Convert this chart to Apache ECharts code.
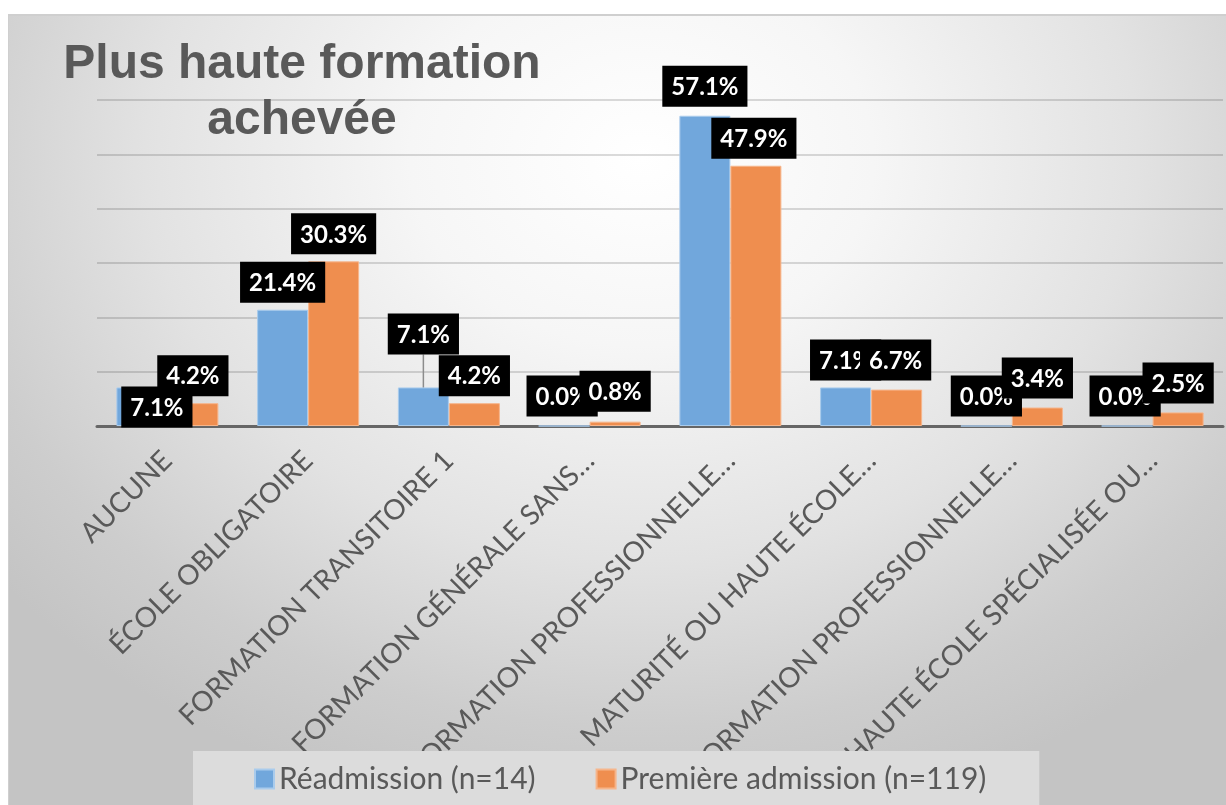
<!DOCTYPE html>
<html>
<head>
<meta charset="utf-8">
<script src="https://cdn.jsdelivr.net/npm/echarts@6/dist/echarts.min.js"></script>
<style>
  html, body { margin: 0; padding: 0; background: #ffffff; }
  #bg {
    position: absolute; left: 8px; top: 14px; width: 1218px; height: 791px;
    box-sizing: border-box;
    border-top: 2px solid #cfcfcf; border-left: 1px solid #cfcfcf;
    background: radial-gradient(ellipse 68% 85% at 52% 18%, #ffffff 0%, #f6f6f6 28%, #e2e2e2 60%, #cdcdcd 85%, #c4c4c4 100%);
  }
  #chart { position: absolute; left: 0; top: 0; width: 1226px; height: 805px; }
</style>
</head>
<body>
<div id="bg"></div>
<div id="chart"></div>
<script>
const titleText = 'Plus haute formation\nachevée';
const categories = [
  'AUCUNE',
  'ÉCOLE OBLIGATOIRE',
  'FORMATION TRANSITOIRE 1',
  'FORMATION GÉNÉRALE SANS…',
  'FORMATION PROFESSIONNELLE…',
  'MATURITÉ OU HAUTE ÉCOLE…',
  'FORMATION PROFESSIONNELLE…',
  'HAUTE ÉCOLE SPÉCIALISÉE OU…'
];
const seriesNames = ['Réadmission (n=14)', 'Première admission (n=119)'];
const readmission = [7.1, 21.4, 7.1, 0.0, 57.1, 7.1, 0.0, 0.0];
const premiere = [4.2, 30.3, 4.2, 0.8, 47.9, 6.7, 3.4, 2.5];
const yTicks = [0, 10, 20, 30, 40, 50, 60];

// label nudges (layout only), [dx, dy] per point
const labelShift = [
  [[15, 47], [0, 0], [0, -26], [-2, -2], [0, -2], [0, 0], [0, -2], [-2, -2]],
  [[0, 0], [0, 0], [0, 0], [0, -3], [-2, 0], [-1, -2], [0, -2], [0, -2]]
];

const colors = ['#71a7dc', '#ef8e4f'];
const borders = ['#a9cbec', '#f6b58b'];

const labelStyle = {
  show: true,
  position: 'top',
  distance: 7,
  formatter: p => p.value.toFixed(1) + '%',
  color: '#ffffff',
  backgroundColor: '#000000',
  fontFamily: 'Lato',
  fontWeight: 'bold',
  fontSize: 24,
  lineHeight: 25,
  padding: [9, 9, 7, 9]
};

function buildData(values, si) {
  return values.map((v, i) => {
    const item = { value: v };
    if (si === 0 && i === 2) {
      item.labelLine = { show: true, lineStyle: { color: '#8c8c8c', width: 1.5 } };
    }
    return item;
  });
}

const chart = echarts.init(document.getElementById('chart'), null, { renderer: 'canvas' });
chart.setOption({
  backgroundColor: 'transparent',
  animation: false,
  title: {
    text: titleText,
    left: 297,
    top: 32,
    textAlign: 'center',
    textStyle: {
      fontFamily: 'Liberation Sans',
      fontWeight: 'bold',
      fontSize: 48,
      lineHeight: 56,
      color: '#595959'
    }
  },
  legend: {
    data: seriesNames,
    left: 193,
    top: 751,
    backgroundColor: '#dcdcdc',
    padding: [10, 53, 20, 61],
    itemWidth: 19,
    itemHeight: 19,
    itemGap: 60,
    icon: 'rect',
    textStyle: { fontFamily: 'Lato', fontSize: 30, color: '#595959', lineHeight: 36 }
  },
  grid: { left: 97, right: 3, top: 100, bottom: 379, containLabel: false },
  xAxis: {
    type: 'category',
    data: categories,
    axisLine: { show: true, lineStyle: { color: '#666666', width: 3 } },
    axisTick: { show: false },
    axisLabel: {
      interval: 0,
      rotate: 45,
      margin: 30,
      fontFamily: 'Lato',
      fontSize: 28,
      color: '#595959'
    },
    splitLine: { show: false }
  },
  yAxis: {
    type: 'value',
    min: yTicks[0],
    max: yTicks[yTicks.length - 1],
    interval: yTicks[1] - yTicks[0],
    axisLabel: { show: false },
    axisLine: { show: false },
    axisTick: { show: false },
    splitLine: { show: true, lineStyle: { color: 'rgba(0,0,0,0.14)', width: 2 } }
  },
  series: [readmission, premiere].map((vals, si) => ({
    name: seriesNames[si],
    type: 'bar',
    data: buildData(vals, si),
    barWidth: 51,
    barGap: '0%',
    itemStyle: { color: colors[si], borderColor: borders[si], borderWidth: 1 },
    label: labelStyle,
    labelLayout: p => {
      const s = labelShift[p.seriesIndex][p.dataIndex];
      return { dx: s[0], dy: s[1] };
    }
  }))
});
</script>
</body>
</html>
